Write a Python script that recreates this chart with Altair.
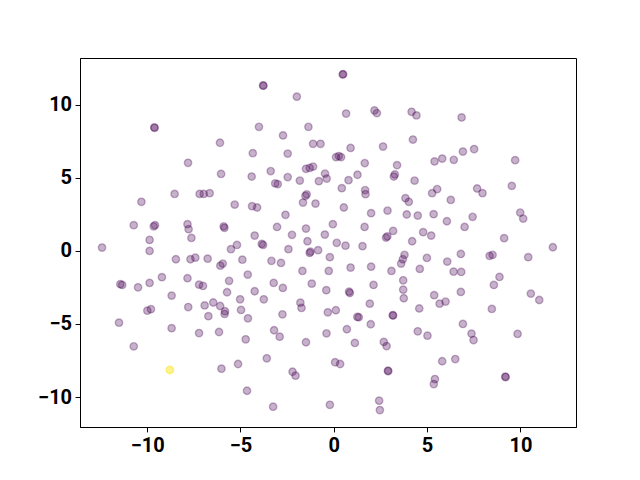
import altair as alt
import pandas as pd

# main cluster (viridis low value)
x_main = [
    -9.60, -9.62, -7.81, -3.77, -3.79, -1.98, -4.01, -1.36, -2.72, -6.10,
    -1.11, -0.71, -4.34, -2.47, -1.49, -1.29, -1.11, -0.47, -0.38, -6.04,
    -4.40, -3.38, -2.47, -1.82, -3.14, -3.00, -0.80, 0.48, 0.50, 0.66,
    2.18, 2.31, 4.17, 4.43, 4.24, 0.90, 2.64, 0.12, 0.27, 0.39,
    1.66, 3.39, 5.40, 5.81, 6.43, 1.27, 0.79, 3.22, 3.27, 4.33,
    6.85, 6.92, 7.52, 9.72, 9.54, -8.53, -7.19, -6.97, -6.65, -10.31,
    -10.72, -9.58, -9.65, -7.84, -7.78, -9.87, -7.63, -12.42, -9.87, -8.46,
    -7.68, -7.42, -6.76, -11.44, -11.34, -10.49, -9.87, -9.21, -7.84, -7.22,
    -7.01, -8.69, -9.99, -9.80, -7.80, -6.92, -1.52, -1.45, -1.65, -0.98,
    -5.31, -4.38, -4.11, -2.59, -3.04, -5.86, -5.90, -4.24, -3.79, -3.86,
    -5.19, -5.51, -1.49, -2.24, -0.48, -0.05, -1.41, -2.43, -1.25, -1.29,
    -0.84, -6.08, -5.95, -4.90, -3.34, -2.83, -0.21, -1.68, -0.27, -4.61,
    -5.61, -3.22, -1.18, -2.73, -4.24, -5.72, -0.40, -5.02, -3.75, -6.46,
    -6.09, -1.79, -1.73, -5.83, -5.85, -4.97, -6.72, -4.60, -2.75, -0.32,
    -6.15, -4.72, -3.20, -2.90, -1.49, -0.39, -3.59, -5.13, -6.02, -2.21,
    -2.05, -4.65, -3.25, -0.21, -11.51, -8.69, -7.22, -10.72, 0.43, 1.68,
    1.70, 3.84, 4.02, 5.27, 5.54, 6.27, 0.54, 2.00, 2.88, 3.91,
    4.50, 5.35, 6.06, 1.65, 3.18, 2.80, 2.87, 4.79, 5.22, 4.20,
    0.16, 0.63, 1.54, 3.79, 3.70, 3.61, 4.99, 6.08, 0.90, 2.00,
    3.09, 4.61, 6.42, 3.72, 2.13, 3.72, 0.82, 0.86, 3.75, 5.38,
    5.99, 5.67, 1.93, 4.58, 0.11, 1.34, 1.26, 1.98, 3.16, 3.18,
    0.70, 1.13, 2.68, 2.83, 4.50, 5.02, 0.07, 0.34, 2.90, 2.92,
    5.42, 5.36, 5.81, 6.51, 2.43, 2.47, 8.47, 6.92, 7.38, 7.49,
    9.85, 9.19, 9.21, 7.68, 7.97, 9.99, 10.15, 7.44, 7.01, 9.13,
    11.74, 6.81, 8.35, 8.51, 10.42, 6.83, 8.88, 8.58, 6.81, 10.56,
    11.01,
]
y_main = [
    8.42, 8.45, 6.03, 11.30, 11.32, 10.55, 8.49, 8.49, 7.90, 7.40,
    7.33, 7.33, 6.69, 6.66, 5.62, 5.68, 5.77, 5.29, 4.95, 5.27,
    5.09, 5.46, 5.05, 4.81, 4.62, 4.57, 4.77, 12.07, 12.09, 9.40,
    9.61, 9.43, 9.52, 9.27, 7.62, 7.05, 7.14, 6.42, 6.49, 6.42,
    6.01, 5.87, 6.12, 6.32, 6.23, 5.21, 4.84, 5.09, 5.23, 4.81,
    9.13, 6.80, 6.97, 6.21, 4.45, 3.90, 3.90, 3.90, 3.95, 3.36,
    1.76, 1.76, 1.68, 1.83, 1.49, 0.75, 0.89, 0.23, 0.00, -0.57,
    -0.57, -0.46, -0.53, -2.28, -2.33, -2.49, -2.19, -1.80, -1.87, -2.31,
    -2.40, -3.06, -4.09, -3.99, -3.84, -3.73, 3.77, 3.87, 3.31, 3.24,
    3.17, 3.06, 2.97, 2.47, 1.64, 1.58, 1.68, 1.05, 0.41, 0.48,
    0.41, 0.12, 1.53, 1.10, 1.12, 1.83, 0.66, 0.12, -0.05, -0.14,
    0.05, -1.01, -0.87, -0.60, -0.68, -0.82, -0.43, -1.37, -1.37, -1.62,
    -2.05, -2.19, -2.24, -2.53, -2.76, -2.83, -2.69, -3.31, -3.31, -3.53,
    -3.77, -3.54, -3.90, -4.13, -4.31, -4.04, -4.47, -4.61, -4.34, -4.20,
    -5.55, -6.05, -5.43, -5.87, -6.25, -5.64, -7.35, -7.74, -8.06, -8.27,
    -8.54, -9.57, -10.66, -10.53, -4.91, -5.29, -5.62, -6.53, 4.29, 4.16,
    3.88, 3.61, 3.36, 3.95, 4.23, 3.49, 2.97, 2.58, 2.76, 2.49,
    2.42, 2.51, 2.03, 1.64, 1.37, 0.91, 0.99, 1.28, 1.05, 0.66,
    0.55, 0.36, 0.32, -0.27, -0.57, -0.87, -0.48, -0.73, -1.14, -1.08,
    -1.37, -1.23, -1.42, -2.01, -2.33, -2.65, -2.79, -2.88, -3.24, -3.03,
    -3.47, -3.61, -3.61, -3.94, -4.06, -4.54, -4.52, -5.02, -4.40, -4.42,
    -5.36, -6.30, -6.23, -6.51, -5.50, -5.80, -7.62, -7.74, -8.20, -8.22,
    -8.77, -9.11, -7.55, -7.40, -10.25, -10.89, -3.97, -5.00, -5.66, -6.10,
    -5.68, -8.61, -8.63, 4.27, 3.95, 2.62, 2.21, 2.33, 1.64, 0.87,
    0.25, -0.21, -0.34, -0.27, -0.43, -1.44, -1.78, -2.33, -2.81, -2.92,
    -3.36,
]
# the single yellow (viridis high value) point
x_out = [-8.79, -8.78]
y_out = [-8.15, -8.14]

tick_values = [-10, -5, 0, 5, 10]

df = pd.DataFrame({
    "x": x_main + x_out,
    "y": y_main + y_out,
    "c": [0.0] * len(x_main) + [1.0] * len(x_out),
})

cscale = alt.Scale(domain=[0, 1], range=["#440154", "#fde725"])

chart = (
    alt.Chart(df)
    .mark_circle(size=54.5, opacity=1, fillOpacity=0.3, strokeOpacity=0.3, strokeWidth=1.4)
    .encode(
        x=alt.X("x:Q", scale=alt.Scale(domain=[-13.6, 12.98], nice=False, zero=False),
                axis=alt.Axis(values=tick_values, title=None, format="d")),
        y=alt.Y("y:Q", scale=alt.Scale(domain=[-12.05, 13.2], nice=False, zero=False),
                axis=alt.Axis(values=tick_values, title=None, format="d")),
        fill=alt.Fill("c:Q", scale=cscale, legend=None),
        stroke=alt.Stroke("c:Q", scale=cscale, legend=None),
    )
    .properties(
        width=496, height=369,
        autosize=alt.AutoSizeParams(type="none"),
        padding={"left": 72, "top": 50, "right": 56, "bottom": 45},
    )
    .configure_view(stroke="black", strokeWidth=1)
    .configure_axis(
        domainColor="black", domainWidth=1, tickColor="black", tickSize=4.9, tickWidth=1,
        labelFont="Roboto", labelFontWeight="bold", labelFontSize=20, labelColor="black",
        labelPadding=3.5, grid=False,
    )
)

chart.save("out.html", embed_options={"renderer": "svg", "actions": False})
